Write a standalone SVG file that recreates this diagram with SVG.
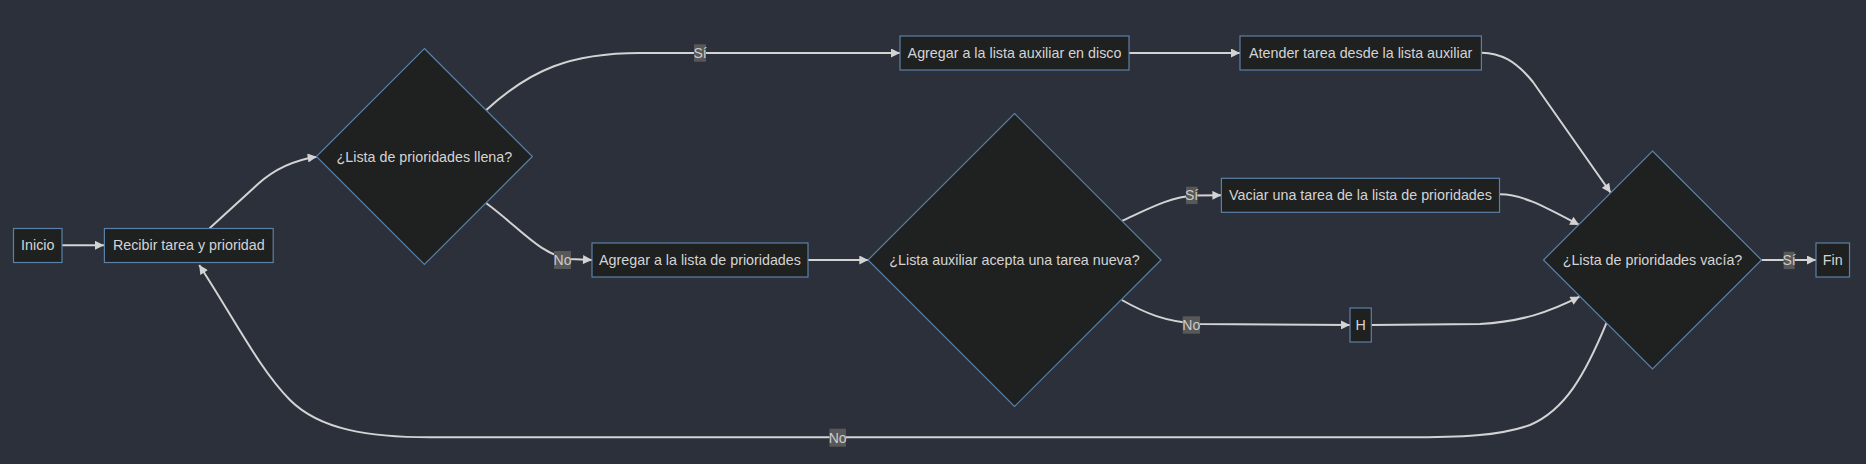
<svg xmlns="http://www.w3.org/2000/svg" width="1866" height="464" viewBox="0 0 1866 464">
<style>
.bg{fill:#2b303b}
.node{fill:#1f2020;stroke:#5a80a8;stroke-width:1.2}
.t{font-family:"Liberation Sans",Arial,sans-serif;font-size:14.3px;fill:#d4d4d4;text-anchor:middle;dominant-baseline:central}
.e{fill:none;stroke:#d3d3d3;stroke-width:2}
.lb{fill:#585858}
.lt{font-family:"Liberation Sans",Arial,sans-serif;font-size:14px;fill:#cccccc;text-anchor:middle;dominant-baseline:central}
</style>
<defs>
<marker id="ah" viewBox="0 0 10 10" refX="10" refY="5" markerWidth="10" markerHeight="9" markerUnits="userSpaceOnUse" orient="auto">
<path d="M0,0 L10,5 L0,10 z" fill="#d3d3d3"/>
</marker>
</defs>
<rect class="bg" x="0" y="0" width="1866" height="464"/>
<g id="edges">
<path class="e" marker-end="url(#ah)" d="M62,245.3 L104,245.3"/>
<path class="e" marker-end="url(#ah)" d="M209.6,228.3 L258,184 Q282,162 316.7,156.7"/>
<path class="e" marker-end="url(#ah)" d="M486.3,110 C530,70 570,53 640,53 L900,53"/>
<path class="e" marker-end="url(#ah)" d="M486.3,203.3 C520,228 540,255 570,259 L592,260"/>
<path class="e" marker-end="url(#ah)" d="M808,260 L868.3,260"/>
<path class="e" marker-end="url(#ah)" d="M1129,53 L1240,53"/>
<path class="e" marker-end="url(#ah)" d="M1481.4,52.7 C1500,53 1515,60 1533,82 L1610.7,192.7"/>
<path class="e" marker-end="url(#ah)" d="M1122.3,220.7 C1150,208 1170,197 1195,195.5 L1221.4,195.3"/>
<path class="e" marker-end="url(#ah)" d="M1499.5,194.3 C1520,194 1540,204 1579.2,225"/>
<path class="e" marker-end="url(#ah)" d="M1121.8,300 C1145,313 1165,322 1200,324 L1350,325"/>
<path class="e" marker-end="url(#ah)" d="M1371.3,325 L1480,324 C1520,322 1550,312 1579.5,296.7"/>
<path class="e" marker-end="url(#ah)" d="M1761.6,260 L1816,260"/>
<path class="e" marker-end="url(#ah)" d="M1606.6,322.7 C1585,375 1565,410 1530,425 C1500,436 1460,437.3 1405,437.3 L430,437.3 C370,437.3 320,430 290,400 C260,370 235,320 199.2,265"/>
<rect class="lb" x="694" y="44.3" width="12" height="17.4"/><text class="lt" x="700" y="53">Sí</text>
<rect class="lb" x="554" y="251" width="17" height="18"/><text class="lt" x="562.5" y="260">No</text>
<rect class="lb" x="1186" y="186.7" width="11.5" height="17.4"/><text class="lt" x="1191.5" y="195.3">Sí</text>
<rect class="lb" x="1182.7" y="316.3" width="17.3" height="17.4"/><text class="lt" x="1191.3" y="325">No</text>
<rect class="lb" x="1783.6" y="251.7" width="11" height="17.4"/><text class="lt" x="1789" y="260">Sí</text>
<rect class="lb" x="829.4" y="428.7" width="16.6" height="18"/><text class="lt" x="837.7" y="437.7">No</text>
</g>
<g id="inicio"><rect class="node" x="13.5" y="228.5" width="48.5" height="34"/><text class="t" x="37.8" y="245.3">Inicio</text></g>
<g id="recibir"><rect class="node" x="104.4" y="228.5" width="168.8" height="34"/><text class="t" x="188.8" y="245.3">Recibir tarea y prioridad</text></g>
<g id="d1"><polygon class="node" points="424.4,48.5 532.4,156.5 424.4,264.5 316.4,156.5"/><text class="t" x="424.4" y="156.5">¿Lista de prioridades llena?</text></g>
<g id="agregarPrio"><rect class="node" x="592" y="243" width="216" height="34"/><text class="t" x="700" y="260">Agregar a la lista de prioridades</text></g>
<g id="agregarAux"><rect class="node" x="900" y="36" width="229" height="34"/><text class="t" x="1014.5" y="53">Agregar a la lista auxiliar en disco</text></g>
<g id="d2"><polygon class="node" points="1014.5,113.5 1161,260 1014.5,406.5 868,260"/><text class="t" x="1014.5" y="260">¿Lista auxiliar acepta una tarea nueva?</text></g>
<g id="atender"><rect class="node" x="1240" y="36" width="241.4" height="34"/><text class="t" x="1360.7" y="53">Atender tarea desde la lista auxiliar</text></g>
<g id="vaciar"><rect class="node" x="1221.4" y="178.3" width="278.1" height="34"/><text class="t" x="1360.5" y="195.3">Vaciar una tarea de la lista de prioridades</text></g>
<g id="h"><rect class="node" x="1350" y="308" width="21.3" height="34"/><text class="t" x="1360.6" y="325">H</text></g>
<g id="d3"><polygon class="node" points="1652.5,151 1761.5,260 1652.5,369 1543.5,260"/><text class="t" x="1652.5" y="260">¿Lista de prioridades vacía?</text></g>
<g id="fin"><rect class="node" x="1816" y="243" width="33.5" height="34"/><text class="t" x="1832.8" y="260">Fin</text></g>
</svg>
